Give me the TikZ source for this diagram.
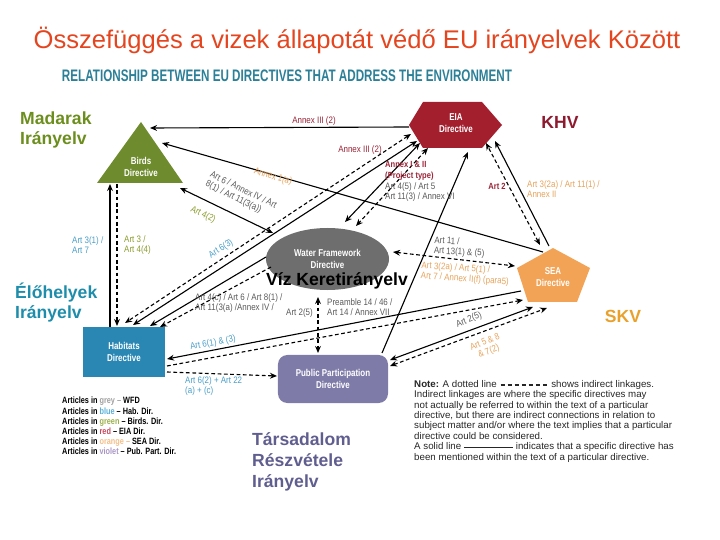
\documentclass[tikz,border=0pt]{standalone}
\usepackage{graphicx}
\usepackage{fontspec}
\setmainfont{Liberation Sans}
\newfontfamily\cond[FakeStretch=0.8]{Liberation Sans}
\newfontfamily\condl[FakeStretch=0.85]{Liberation Sans}
\newfontfamily\narrowfont[FakeStretch=0.7]{Liberation Sans}
\usetikzlibrary{arrows.meta,shapes.geometric}
\definecolor{titlecol}{HTML}{E4451F}
\definecolor{subcol}{HTML}{2B7F97}
\definecolor{birdsc}{HTML}{6E8B2D}
\definecolor{birdtxt}{HTML}{6C8E1D}
\definecolor{eiac}{HTML}{A31F2E}
\definecolor{khvc}{HTML}{8E1A30}
\definecolor{seac}{HTML}{F2A356}
\definecolor{skvc}{HTML}{E9A12B}
\definecolor{wfdc}{HTML}{6E6E6E}
\definecolor{habc}{HTML}{2A87B3}
\definecolor{habtxt}{HTML}{1E8DAB}
\definecolor{ppdc}{HTML}{7E7BA9}
\definecolor{ppdtxt}{HTML}{5F5E8F}
\definecolor{lgrey}{HTML}{5A5A5A}
\definecolor{lblue}{HTML}{4A9FC9}
\definecolor{lgreen}{HTML}{8C9C2E}
\definecolor{lred}{HTML}{9A2336}
\definecolor{lorange}{HTML}{E6A35C}
\definecolor{kgrey}{HTML}{A0A0A0}
\definecolor{kblue}{HTML}{5BB0D8}
\definecolor{kgreen}{HTML}{9CB04A}
\definecolor{kred}{HTML}{C8485A}
\definecolor{korange}{HTML}{F3BE88}
\definecolor{kviolet}{HTML}{A896C4}
\newcommand\dashsample{\raisebox{0.3ex}{\leaders\hbox to 6pt{\hss\rule{4pt}{1.3pt}\hss}\hskip 42pt}}
\newcommand\solidsample{\raisebox{0.3ex}{\rule{42pt}{1.3pt}}}
\begin{document}
\begin{tikzpicture}[x=0.03cm,y=-0.03cm,
  every node/.style={inner sep=0pt},
  sol/.style={line width=0.95pt},
  dsh/.style={line width=0.95pt,dash pattern=on 3.2pt off 2.2pt},
  ae/.style={-{Stealth[length=6pt,width=5pt]}},
  ab/.style={{Stealth[length=6pt,width=5pt]}-{Stealth[length=6pt,width=5pt]}},
  lab/.style={font=\condl\fontsize{8}{8.8}\selectfont, align=left},
  labb/.style={font=\condl\bfseries\fontsize{7.6}{8.8}\selectfont, align=left},
  big/.style={font=\bfseries\fontsize{15}{17}\selectfont, align=left},
  shp/.style={font=\cond\bfseries\fontsize{8.5}{10}\selectfont, text=white, align=center},
]
\useasboundingbox (0,0) rectangle (720,540);

% titles
\node[text=titlecol] (title) at (357,40) {\resizebox{19.4cm}{!}{Összefüggés a vizek állapotát védő EU irányelvek Között}};
\node[text=subcol] (sub) at (287,76) {\resizebox{13.5cm}{!}{\narrowfont\bfseries RELATIONSHIP BETWEEN EU DIRECTIVES THAT ADDRESS THE ENVIRONMENT}};

% shapes
\fill[birdsc] (97,183) -- (183,183) -- (141,122) -- cycle;
\node[shp] (birds) at (141,167) {Birds\\Directive};
\fill[eiac] (409,125) -- (423,102) -- (482,102) -- (502,125) -- (482,148) -- (423,148) -- cycle;
\node[shp] (eia) at (456,123) {EIA\\Directive};
\fill[seac] (553,248) -- (590,268) -- (577,302) -- (528,302) -- (517,268) -- cycle;
\node[shp] (sea) at (553,277) {SEA\\Directive};
\node[shp, ellipse, fill=wfdc, minimum width=3.69cm, minimum height=1.86cm] (wfd) at (327.5,259) {Water Framework\\Directive};
\node[shp, rectangle, fill=habc, minimum width=2.46cm, minimum height=1.5cm] (hab) at (124,352) {Habitats\\Directive};
\node[shp, rectangle, rounded corners=8pt, fill=ppdc, minimum width=3.3cm, minimum height=1.44cm] (ppd) at (333,379) {Public Participation\\Directive};

% connector end points
\coordinate (a1s) at (409,127); \coordinate (a1e) at (150,128);
\coordinate (a2s) at (543,252); \coordinate (a2e) at (162,143);
\coordinate (a3s) at (180,188); \coordinate (a3e) at (273,233);
\coordinate (a4s) at (110,327); \coordinate (a4e) at (110,184);
\coordinate (a5s) at (117,184); \coordinate (a5e) at (117,326);
\coordinate (a6s) at (417,141); \coordinate (a6e) at (133,325);
\coordinate (a7s) at (411,134); \coordinate (a7e) at (125,323);
\coordinate (a8s) at (266,257); \coordinate (a8e) at (150,326);
\coordinate (a9s) at (271,267); \coordinate (a9e) at (160,327);
\coordinate (a10s) at (420,143); \coordinate (a10e) at (345,222);
\coordinate (a11s) at (428,148); \coordinate (a11e) at (356,226);
\coordinate (a12s) at (382,353); \coordinate (a12e) at (468,152);
\coordinate (a13s) at (549,246); \coordinate (a13e) at (495,141);
\coordinate (a14s) at (540,245); \coordinate (a14e) at (486,143);
\coordinate (a15s) at (393,252); \coordinate (a15e) at (515,266);
\coordinate (a16s) at (521,291); \coordinate (a16e) at (167,359);
\coordinate (a17s) at (167,366); \coordinate (a17e) at (523,300);
\coordinate (a18s) at (167,372); \coordinate (a18e) at (277,376);
\coordinate (a19s) at (390,360); \coordinate (a19e) at (533,307);
\coordinate (a20s) at (390,366); \coordinate (a20e) at (547,308);
\coordinate (a21s) at (318,297); \coordinate (a21e) at (318,353);

% connectors
\draw[sol,ae] (a1s) -- (a1e);
\draw[sol,ae] (a2s) -- (a2e);
\draw[sol,ab] (a3s) -- (a3e);
\draw[sol,ae] (a4s) -- (a4e);
\draw[dsh,ae] (a5s) -- (a5e);
\draw[sol,ab] (a6s) -- (a6e);
\draw[dsh,ab] (a7s) -- (a7e);
\draw[sol,ae] (a8s) -- (a8e);
\draw[dsh,ae] (a9s) -- (a9e);
\draw[sol,ab] (a10s) -- (a10e);
\draw[dsh,ab] (a11s) -- (a11e);
\draw[sol,ae] (a12s) -- (a12e);
\draw[sol,ae] (a13s) -- (a13e);
\draw[dsh,ab] (a14s) -- (a14e);
\draw[dsh,ab] (a15s) -- (a15e);
\draw[sol,ae] (a16s) -- (a16e);
\draw[dsh,ae] (a17s) -- (a17e);
\draw[dsh,ae] (a18s) -- (a18e);
\draw[sol,ab] (a19s) -- (a19e);
\draw[dsh,ab] (a20s) -- (a20e);
\draw[dsh,ab] (a21s) -- (a21e);

% connector labels
\node[lab, text=lred] (l1) at (314,121) {Annex III (2)};
\node[lab, text=lred] (l2) at (360,150) {Annex III (2)};
\node[lab, text=lorange, rotate=-16] (l3) at (273,177) {Annex 1(a)};
\node[lab, text=lgrey, rotate=-26] (l4) at (241,195) {Art 6 / Annex IV / Art\\8(1) / Art 11(3(a))};
\node[lab, text=lgreen, rotate=-26] (l5) at (203,215) {Art 4(2)};
\node[lab, text=lblue, anchor=west] (l6) at (72,245) {Art 3(1) /\\Art 7};
\node[lab, text=lgreen, anchor=west] (l7) at (124,245) {Art 3 /\\Art 4(4)};
\node[lab, text=lblue, rotate=33] (l8) at (221,249) {Art 6(3)};
\node[lab, text=lgrey, anchor=west] (l9) at (195,303) {Art 4(c) / Art 6 / Art 8(1) /\\Art 11(3(a) /Annex IV /};
\node[labb, text=lred, anchor=west] (l10) at (385,171) {Annex I \& II\\(Project type)};
\node[lab, text=lgrey, anchor=west] (l11) at (385,192) {Art 4(5) / Art 5\\Art 11(3) / Annex VI};
\node[labb, text=lred] (l12) at (497,186) {Art 2};
\node[lab, text=lorange, anchor=west] (l13) at (527,189) {Art 3(2a) / Art 11(1) /\\Annex II};
\node[lab, text=lgrey, anchor=west, rotate=-3] (l14) at (434,246) {Art 11 /\\Art 13(1) \& (5)};
\node[lab, text=lorange, anchor=west, rotate=-4] (l15) at (421,271) {Art 3(2a) / Art 5(1) /\\Art 7 / Annex II(f) (para5)};
\node[lab, text=lblue, rotate=10] (l16) at (213,343) {Art 6(1) \& (3)};
\node[lab, text=lblue, anchor=west] (l17) at (185,386) {Art 6(2) + Art 22\\(a) + (c)};
\node[lab, text=lgrey, rotate=22] (l18) at (469,320) {Art 2(5)};
\node[lab, text=lorange, rotate=22, align=center] (l19) at (487,347) {Art 5 \& 8\\\& 7(2)};
\node[lab, text=lgrey, anchor=east] (l20) at (313,313) {Art 2(5)};
\node[lab, text=lgrey, anchor=west] (l21) at (327,307) {Preamble 14 / 46 /\\Art 14 / Annex VII};

% Hungarian labels
\node[big, text=birdtxt, anchor=north west] (madarak) at (20,112) {Madarak\\Irányelv};
\node[big, text=khvc] (khv) at (560,122) {KHV};
\node[big, text=skvc] (skv) at (623,316) {SKV};
\node[big, text=habtxt, anchor=north west] (eloh) at (15,283) {Élőhelyek\\Irányelv};
\node[big, text=ppdtxt, anchor=north west, font=\bfseries\fontsize{15}{18.2}\selectfont] (tars) at (252,432) {Társadalom\\Részvétele\\Irányelv};
\node[big, text=black] (viz) at (337,281) {Víz Keretirányelv};

% legend
\node[anchor=north west, align=left, font=\cond\bfseries\fontsize{7.8}{8.7}\selectfont] (legend) at (62,397) {Articles in \textcolor{kgrey}{grey –} WFD\\
Articles in \textcolor{kblue}{blue} – Hab. Dir.\\
Articles in \textcolor{kgreen}{green} – Birds. Dir.\\
Articles in \textcolor{kred}{red} – EIA Dir.\\
Articles in \textcolor{korange}{orange –} SEA Dir.\\
Articles in \textcolor{kviolet}{violet} – Pub. Part. Dir.};

% note
\node[anchor=north west, align=left, text=black!85, font=\fontsize{8.3}{8.9}\selectfont] (note) at (414,380) {\textbf{Note:} A dotted line \dashsample{} shows indirect linkages.\\
Indirect linkages are where the specific directives may\\
not actually be referred to within the text of a particular\\
directive, but there are indirect connections in relation to\\
subject matter and/or where the text implies that a particular\\
directive could be considered.\\
A solid line \solidsample{} indicates that a specific directive has\\
been mentioned within the text of a particular directive.};
\end{tikzpicture}
\end{document}
